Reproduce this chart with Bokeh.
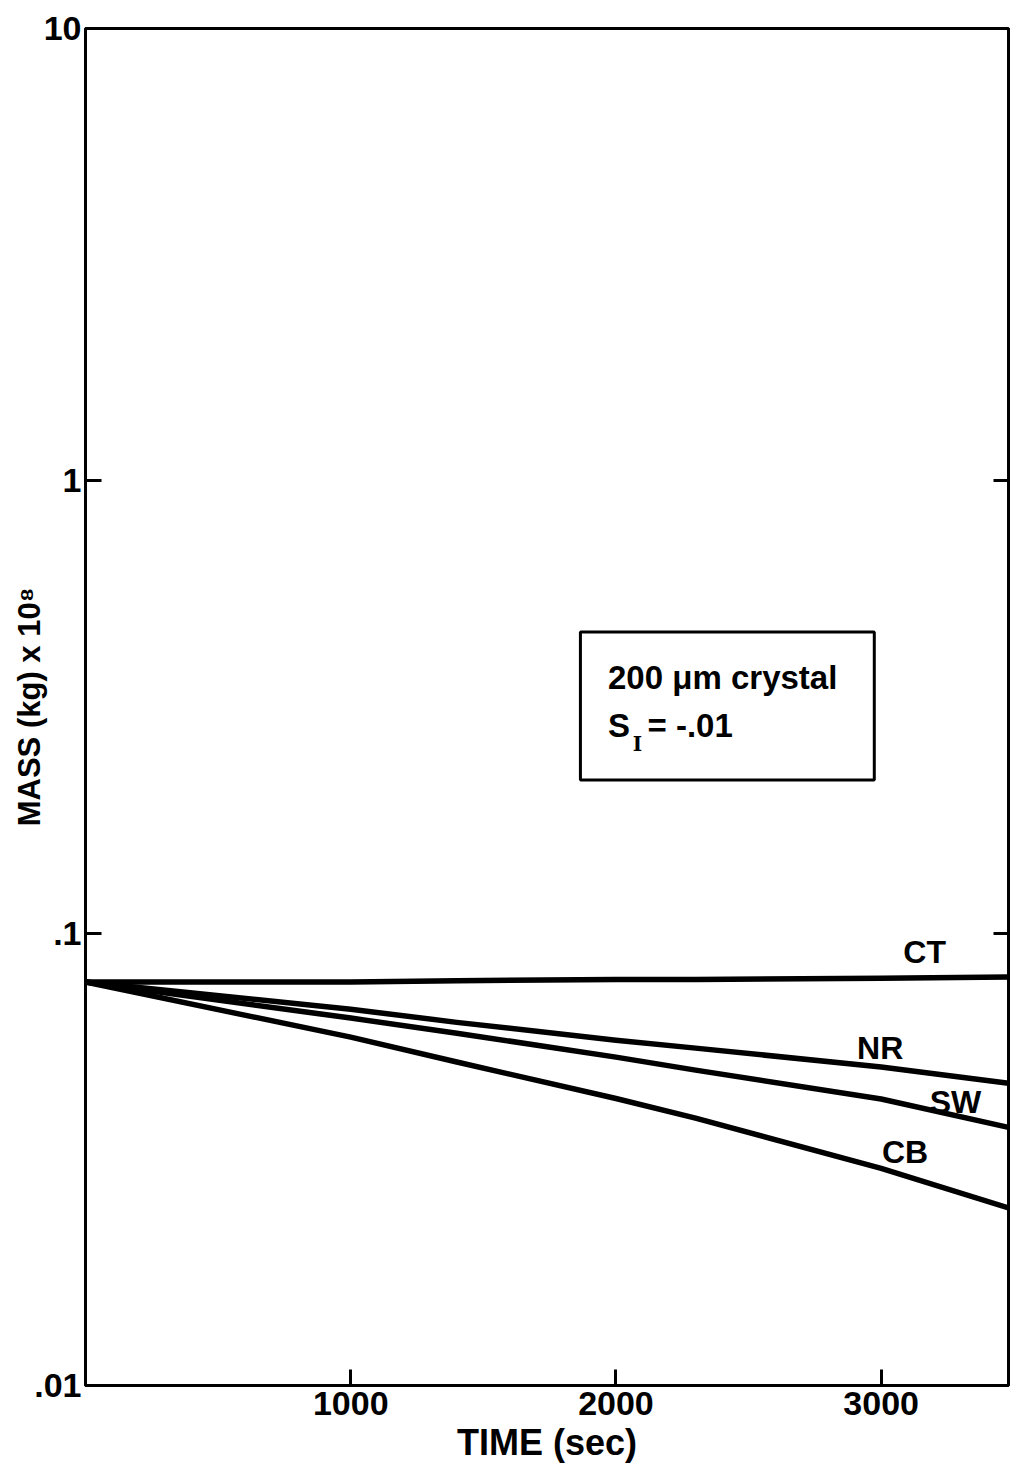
from bokeh.plotting import figure
from bokeh.models import (Range1d, LogAxis, FixedTicker, CustomJSTickFormatter,
                          Label, BoxAnnotation, ColumnDataSource)
from bokeh.core.properties import value
from bokeh.embed import file_html
from bokeh.resources import INLINE

# ---- data ----
TIME = [0, 1000, 1400, 2000, 2300, 3000, 3480]
CT = [0.078, 0.078, 0.0785, 0.079, 0.079, 0.0795, 0.080]
NR = [0.078, 0.0679, 0.0635, 0.0580, 0.0557, 0.0506, 0.0466]
SW = [0.078, 0.0649, 0.0601, 0.0532, 0.0498, 0.0430, 0.0372]
CB = [0.078, 0.0589, 0.0519, 0.0431, 0.0390, 0.0302, 0.0247]

SERIES_NAMES = ["CT", "NR", "SW", "CB"]
LABEL_X = [3164, 2996, 3280, 3090]
LABEL_Y = [0.0908, 0.0557, 0.0423, 0.0328]

X_TICKS = [1000, 2000, 3000]
Y_TICKS = [0.01, 0.1, 1, 10]
Y_TICK_LABELS = [".01", ".1", "1", "10"]
RIGHT_TICKS = [0.1, 1]

FONT = "Liberation Sans"

p = figure(width=1014, height=1471, output_backend="svg", toolbar_location=None,
           y_axis_type="log", x_range=Range1d(0, 3480), y_range=Range1d(0.01, 10),
           min_border_left=85, min_border_right=6, min_border_top=28, min_border_bottom=86)
p.grid.visible = False
p.outline_line_color = "black"
p.outline_line_width = 3
p.outline_line_alpha = 1
p.background_fill_color = "white"
p.border_fill_color = "white"

src = ColumnDataSource(dict(t=TIME, CT=CT, NR=NR, SW=SW, CB=CB))
for name in SERIES_NAMES:
    p.line("t", name, source=src, line_color="black", line_width=5.5,
           line_join="round", line_cap="round")

lab_src = ColumnDataSource(dict(x=LABEL_X, y=LABEL_Y, text=SERIES_NAMES))
p.text("x", "y", text="text", source=lab_src, text_font=value(FONT), text_font_size="32px",
       text_font_style="bold", text_align="center", text_baseline="middle", text_color="black")

# annotation box
p.add_layout(BoxAnnotation(left=1866, right=2974, bottom=0.218, top=0.463,
                           fill_color=None, fill_alpha=0, line_color="black",
                           line_alpha=1, line_width=3))
box_text = dict(text_font=FONT, text_font_size="33px", text_font_style="bold",
                text_baseline="middle", text_color="black")
p.add_layout(Label(x=1970, y=0.368, text="200 \u03bcm crystal", **box_text))
p.add_layout(Label(x=1970, y=0.288, text="S", **box_text))
p.add_layout(Label(x=2063, y=0.262, text="I", text_font="DejaVu Serif",
                   text_font_size="20px", text_font_style="bold", text_baseline="middle",
                   text_color="black"))
p.add_layout(Label(x=2119, y=0.288, text="= -.01", **box_text))

# x axis
xa = p.xaxis[0]
xa.ticker = FixedTicker(ticks=X_TICKS)
xa.axis_label = "TIME (sec)"
xa.axis_label_text_font = FONT
xa.axis_label_text_font_size = "36px"
xa.axis_label_text_font_style = "bold"
xa.axis_label_standoff = 4
xa.major_label_text_font = FONT
xa.major_label_text_font_size = "34px"
xa.major_label_text_font_style = "bold"
xa.major_label_standoff = 6

# y axis
ya = p.yaxis[0]
ya.ticker = FixedTicker(ticks=Y_TICKS)
ya.formatter = CustomJSTickFormatter(args=dict(tvals=Y_TICKS, tlabels=Y_TICK_LABELS), code="""
for (let i = 0; i < tvals.length; i++) {
  if (Math.abs(Math.log10(tick) - Math.log10(tvals[i])) < 1e-6) return tlabels[i];
}
return '';
""")
ya.axis_label = "MASS (kg) x 10\u2078"
ya.axis_label_text_font = FONT
ya.axis_label_text_font_size = "31px"
ya.axis_label_text_font_style = "bold"
ya.axis_label_standoff = -16
ya.major_label_text_font = FONT
ya.major_label_text_font_size = "34px"
ya.major_label_text_font_style = "bold"
ya.major_label_standoff = 4

for ax in (xa, ya):
    ax.axis_line_width = 3
    ax.axis_line_color = "black"
    ax.major_tick_line_width = 3
    ax.major_tick_in = 16
    ax.major_tick_out = 0
    ax.minor_tick_line_color = None
    ax.major_label_text_color = "black"
    ax.axis_label_text_color = "black"

ra = LogAxis(ticker=FixedTicker(ticks=RIGHT_TICKS), major_label_text_font_size="2px",
             major_label_text_color=None, major_label_standoff=0, major_tick_in=15,
             major_tick_out=0, major_tick_line_width=3, axis_line_width=3,
             minor_tick_line_color=None)
p.add_layout(ra, "right")

open("out.html", "w").write(file_html(p, INLINE))
